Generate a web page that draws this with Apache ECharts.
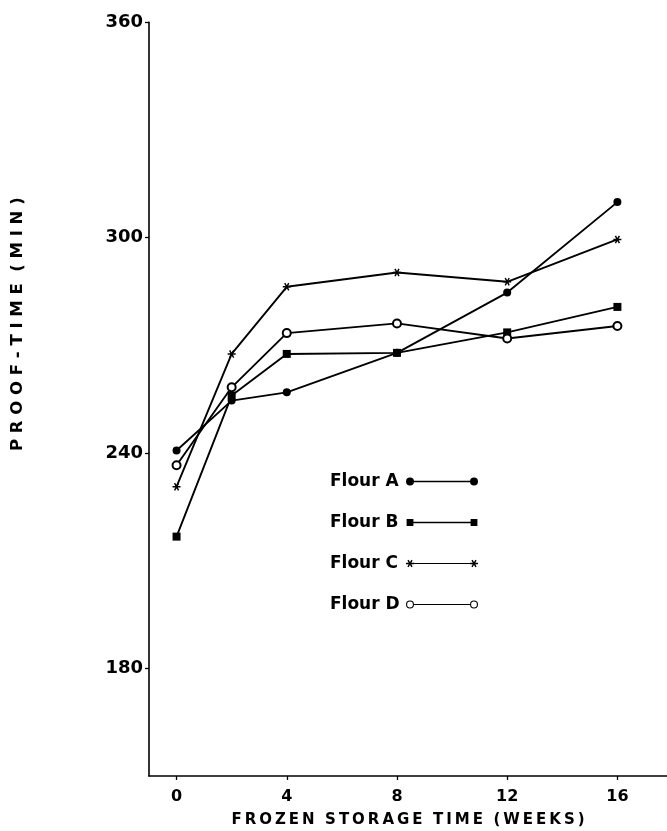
<!DOCTYPE html>
<html>
<head>
<meta charset="utf-8">
<script src="https://cdn.jsdelivr.net/npm/echarts@6/dist/echarts.min.js"></script>
<style>
  html, body { margin: 0; padding: 0; background: #fff; }
  #chart { width: 667px; height: 831px; }
</style>
</head>
<body>
<div id="chart"></div>
<script>
// frozen storage time (weeks)
var weeks = [0, 2, 4, 8, 12, 16];
// proof-time (min) per flour
var flourA = [240.7, 254.6, 256.9, 267.9, 284.7, 309.9];
var flourB = [216.7, 256.0, 267.6, 267.9, 273.6, 280.7];
var flourC = [230.6, 267.6, 286.3, 290.3, 287.7, 299.5];
var flourD = [236.6, 258.3, 273.4, 276.1, 271.9, 275.4];
var names = ["Flour A", "Flour B", "Flour C", "Flour D"];
var xTicks = [0, 4, 8, 12, 16];
var yTicks = [180, 240, 300, 360];

var FONT = "DejaVu Sans";
var TS = "\u2009"; // thin space, for the letter-spaced axis titles

// little path helpers for the marker shapes
function circ(cx, cy, r, rev) {
  var s = rev ? 1 : 0;
  return "M" + (cx - r) + "," + cy + " a" + r + "," + r + " 0 1," + s + " " + (2 * r) + ",0" +
         " a" + r + "," + r + " 0 1," + s + " " + (-2 * r) + ",0 Z ";
}
function bar(cx, cy, len, t, ang) {
  var dx = Math.cos(ang), dy = Math.sin(ang);
  var nx = -dy * t, ny = dx * t;
  var x1 = cx - dx * len, y1 = cy - dy * len, x2 = cx + dx * len, y2 = cy + dy * len;
  return "M" + (x1 + nx).toFixed(2) + "," + (y1 + ny).toFixed(2) +
         " L" + (x2 + nx).toFixed(2) + "," + (y2 + ny).toFixed(2) +
         " L" + (x2 - nx).toFixed(2) + "," + (y2 - ny).toFixed(2) +
         " L" + (x1 - nx).toFixed(2) + "," + (y1 - ny).toFixed(2) + " Z ";
}
function star(cx, cy, r, t) {
  return bar(cx, cy, r, t, 0) + bar(cx, cy, r, t, Math.PI / 3) + bar(cx, cy, r, t, 2 * Math.PI / 3);
}
function sq(cx, cy, h) {
  return "M" + (cx - h) + "," + (cy - h) + " V" + (cy + h) + " H" + (cx + h) + " V" + (cy - h) + " Z ";
}
function spaced(words, sep) {
  return words.map(function (w) { return w.split("").join(sep); }).join("  ");
}

var starSymbol = "path://" + star(5, 5, 5, 0.9);

// legend icons: line with a marker at each end (72 x 8 box)
var L = 72, R = 4;
var iconA = "path://" + circ(R, R, R) + bar(L / 2, R, L / 2 - R, 0.7, 0) + circ(L - R, R, R);
var iconB = "path://" + sq(R, R, 3.4) + bar(L / 2, R, L / 2 - R, 0.7, 0) + sq(L - R, R, 3.4) +
            "M0,0 h0.01 v0.01 Z M" + L + "," + (2 * R) + " h-0.01 v-0.01 Z";
var iconC = "path://" + star(R, R, R, 0.7) + bar(L / 2, R, L / 2 - R, 0.6, 0) + star(L - R, R, R, 0.7);
var iconD = "path://" + circ(R, R, R) + circ(R, R, R - 1.1, true) +
            bar(L / 2, R, L / 2 - 2 * R, 0.6, 0) +
            circ(L - R, R, R) + circ(L - R, R, R - 1.1, true);

function pairs(vals) {
  return weeks.map(function (w, i) { return [w, vals[i]]; });
}

var myChart = echarts.init(document.getElementById("chart"));
var option = {
  backgroundColor: "#fff",
  animation: false,
  grid: { left: 149, right: 0, top: 22.3, bottom: 55, outerBoundsMode: "none" },
  legend: {
    orient: "vertical",
    left: 330,
    top: 473,
    padding: 0,
    align: "right",
    itemWidth: 72,
    itemHeight: 8,
    itemGap: 24,
    itemStyle: { borderWidth: 0, color: "#000" },
    formatter: function (n) { return "{t|" + n + "}"; },
    textStyle: {
      rich: {
        t: { width: 71, align: "left", lineHeight: 20, fontFamily: FONT, fontWeight: "bold", fontSize: 17, color: "#000" }
      }
    },
    data: [
      { name: names[0], icon: iconA },
      { name: names[1], icon: iconB },
      { name: names[2], icon: iconC },
      { name: names[3], icon: iconD }
    ]
  },
  xAxis: {
    type: "value",
    min: -1,
    max: 17.8,
    name: spaced(["FROZEN", "STORAGE", "TIME", "(WEEKS)"], TS),
    nameLocation: "middle",
    nameGap: 37,
    nameMoveOverlap: false,
    nameTextStyle: { fontFamily: FONT, fontWeight: "bold", fontSize: 15, color: "#000" },
    splitLine: { show: false },
    axisLine: { onZero: false, lineStyle: { color: "#000", width: 1.6 } },
    axisTick: { customValues: xTicks, length: 4, lineStyle: { color: "#000", width: 1.3 } },
    axisLabel: { customValues: xTicks, margin: 13, fontFamily: FONT, fontWeight: "bold", fontSize: 16, color: "#000" }
  },
  yAxis: {
    type: "value",
    min: 150,
    max: 360,
    name: spaced(["PROOF-TIME", "(MIN)"], " "),
    nameLocation: "middle",
    nameGap: 123,
    nameMoveOverlap: false,
    nameTextStyle: { fontFamily: FONT, fontWeight: "bold", fontSize: 16.5, color: "#000", padding: [0, 0, 0, 150] },
    splitLine: { show: false },
    axisLine: { show: true, onZero: false, lineStyle: { color: "#000", width: 1.6 } },
    axisTick: { show: true, customValues: yTicks, length: 4, lineStyle: { color: "#000", width: 1.3 } },
    axisLabel: { customValues: yTicks, margin: 6, fontFamily: FONT, fontWeight: "bold", fontSize: 18, color: "#000" }
  },
  series: [
    {
      name: names[0], type: "line", data: pairs(flourA),
      symbol: "circle", symbolSize: 8,
      itemStyle: { color: "#000" }, lineStyle: { color: "#000", width: 1.9 }
    },
    {
      name: names[1], type: "line", data: pairs(flourB),
      symbol: "rect", symbolSize: 8,
      itemStyle: { color: "#000" }, lineStyle: { color: "#000", width: 1.9 }
    },
    {
      name: names[2], type: "line", data: pairs(flourC),
      symbol: starSymbol, symbolSize: 8,
      itemStyle: { color: "#000" }, lineStyle: { color: "#000", width: 1.9 }
    },
    {
      name: names[3], type: "line", data: pairs(flourD),
      symbol: "emptyCircle", symbolSize: 8,
      itemStyle: { color: "#000", borderWidth: 1 }, lineStyle: { color: "#000", width: 1.9 }
    }
  ]
};
option && myChart.setOption(option);
</script>
</body>
</html>
